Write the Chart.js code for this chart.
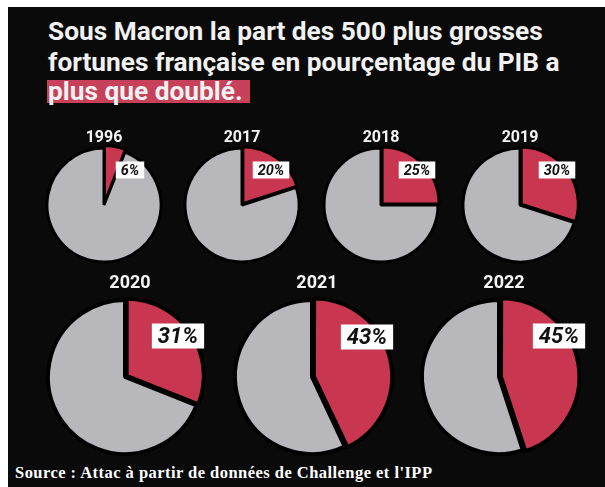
<!DOCTYPE html>
<html>
<head>
<meta charset="utf-8">
<script src="https://cdn.jsdelivr.net/npm/chart.js@4.4.1/dist/chart.umd.min.js"></script>
<style>
    body { margin: 0; width: 605px; height: 487px; background: #fff; overflow: hidden; position: relative; font-family: Roboto, sans-serif; }
    #bg { position: absolute; left: 8px; top: 7px; right: 0; bottom: 0; background: #0a0a0a; }
    #hl { position: absolute; left: 47px; top: 80px; width: 203px; height: 23px; background: #c8415b; }
    .line { position: absolute; left: 48px; top: 0; color: #f2f2f2; font-weight: 700; white-space: nowrap; }
    #source { position: absolute; left: 15px; top: 0; color: #fff; font-family: "Liberation Serif", serif; font-weight: 700; font-size: 16.5px; white-space: nowrap; }
    canvas { position: absolute; }
    .mark { display: inline-block; width: 0; height: 0; }
</style>
</head>
<body>
<div id="bg"></div>
<div id="hl"></div>
<div class="line" data-base="40">Sous Macron la part des 500 plus grosses</div>
<div class="line" data-base="70.5">fortunes française en pourçentage du PIB a</div>
<div class="line" data-base="100">plus que doublé.</div>
<div id="source" data-base="478">Source : Attac à partir de données de Challenge et l'IPP</div>

<script>
// data
const years = ['1996', '2017', '2018', '2019', '2020', '2021', '2022'];
const shares = [6, 20, 25, 30, 31, 43, 45];
const others = [94, 80, 75, 70, 69, 57, 55];
const pctLabels = ['6%', '20%', '25%', '30%', '31%', '43%', '45%'];

const RED = '#c8374f';
const GREY = '#b7b7bc';

// where each pie sits on the page (layout only)
const small = { r: 57, yearFont: 16, yearDy: -63, yearDx: 0, boxFont: 14.5, boxH: 17, pad: 5, offset: 6, border: 3 };
const big = { r: 77, yearFont: 18, yearDy: -89, yearDx: 5, boxFont: 22, boxH: 25, pad: 6, offset: 8, border: 4 };
const pies = [
    { cx: 103.5, cy: 205, s: small, box: [26, -35] },
    { cx: 242, cy: 205, s: small, box: [29, -35] },
    { cx: 381, cy: 205, s: small, box: [36, -35] },
    { cx: 520, cy: 205, s: small, box: [37, -35] },
    { cx: 125, cy: 377, s: big, box: [53, -41] },
    { cx: 312, cy: 377, s: big, box: [55, -40] },
    { cx: 499, cy: 377, s: big, box: [60, -41] }
];

// fit a text line to a width by font size
function fitFont(el, width, family, weight) {
    const ctx = document.createElement('canvas').getContext('2d');
    ctx.font = weight + ' 100px ' + family;
    const w = ctx.measureText(el.textContent).width;
    el.style.fontSize = (100 * width / w) + 'px';
}

// fit a text line to a width by letter spacing
function fitSpacing(el, width) {
    const w = el.getBoundingClientRect().width;
    el.style.letterSpacing = ((width - w) / (el.textContent.length - 1)) + 'px';
}

// put the text baseline at data-base
function placeBaseline(el) {
    const m = document.createElement('span');
    m.className = 'mark';
    el.appendChild(m);
    const y = m.getBoundingClientRect().top;
    el.style.top = (parseFloat(el.dataset.base) - y) + 'px';
}

const lines = document.querySelectorAll('.line');
fitFont(lines[0], 495, 'Roboto', 700);
lines[1].style.fontSize = lines[0].style.fontSize;
lines[2].style.fontSize = lines[0].style.fontSize;
const source = document.getElementById('source');
fitSpacing(source, 417);
lines.forEach(placeBaseline);
placeBaseline(source);

const labelsPlugin = {
    id: 'pieLabels',
    afterDraw(chart) {
        const cfg = chart.options.plugins.pieLabels;
        const s = cfg.s;
        const arc = chart.getDatasetMeta(0).data[0];
        const ctx = chart.ctx;
        ctx.save();
        // year on top
        ctx.fillStyle = '#f4f4f4';
        ctx.font = '700 ' + s.yearFont + 'px Roboto';
        ctx.textAlign = 'center';
        ctx.textBaseline = 'alphabetic';
        ctx.fillText(cfg.year, arc.x + s.yearDx, arc.y + s.yearDy);
        // percent box
        ctx.font = 'italic 700 ' + s.boxFont + 'px Roboto';
        const tw = ctx.measureText(cfg.text).width;
        const bw = tw + s.pad * 2;
        const bx = arc.x + cfg.box[0];
        const by = arc.y + cfg.box[1];
        ctx.fillStyle = '#fff';
        ctx.fillRect(bx - bw / 2, by - s.boxH / 2, bw, s.boxH);
        ctx.fillStyle = '#111';
        ctx.textBaseline = 'middle';
        ctx.fillText(cfg.text, bx, by + 1);
        ctx.restore();
    }
};

pies.forEach((p, i) => {
    const size = 2 * p.s.r + 70;
    const cv = document.createElement('canvas');
    cv.width = size;
    cv.height = size;
    cv.style.left = (p.cx - size / 2) + 'px';
    cv.style.top = (p.cy - size / 2) + 'px';
    document.body.appendChild(cv);
    new Chart(cv, {
        type: 'pie',
        data: {
            labels: ['500 plus grosses fortunes', 'reste du PIB'],
            datasets: [{
                data: [shares[i], others[i]],
                backgroundColor: [RED, GREY],
                borderColor: '#000',
                borderWidth: p.s.border,
                offset: [p.s.offset, 0]
            }]
        },
        options: {
            responsive: false,
            animation: false,
            devicePixelRatio: 1,
            radius: p.s.r,
            layout: { padding: 0 },
            plugins: {
                legend: { display: false },
                tooltip: { enabled: false },
                pieLabels: { year: years[i], text: pctLabels[i], box: p.box, s: p.s }
            }
        },
        plugins: [labelsPlugin]
    });
});
</script>
</body>
</html>
